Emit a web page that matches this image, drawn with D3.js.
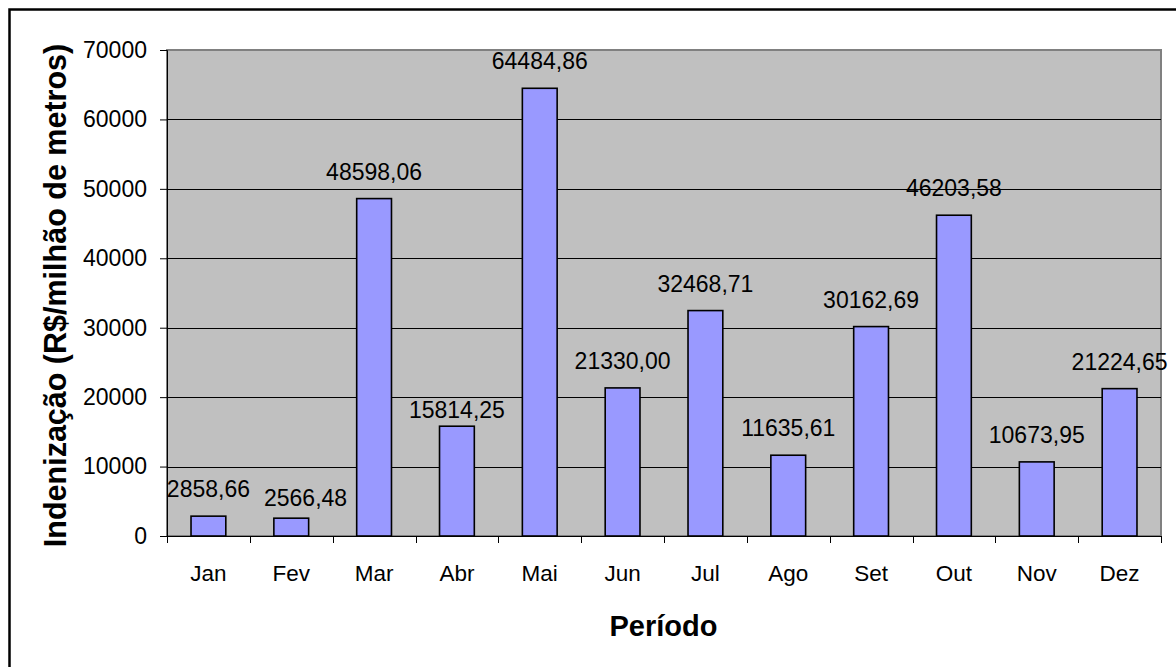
<!DOCTYPE html>
<html>
<head>
<meta charset="utf-8">
<script src="https://cdn.jsdelivr.net/npm/d3@7"></script>
<style>
html,body{margin:0;padding:0;background:#fff;}
svg{display:block;}
text{font-family:"Liberation Sans",Arial,sans-serif;fill:#000;}
</style>
</head>
<body>
<script>
const months = ["Jan","Fev","Mar","Abr","Mai","Jun","Jul","Ago","Set","Out","Nov","Dez"];
const values = [2858.66,2566.48,48598.06,15814.25,64484.86,21330.00,32468.71,11635.61,30162.69,46203.58,10673.95,21224.65];
const yTicks = [0,10000,20000,30000,40000,50000,60000,70000];
const yTitle = "Indenização (R$/milhão de metros)";
const xTitle = "Período";

// layout: manual label nudges seen in the original (pixels, downward)
const labelNudgeY = { Abr: 11 };

const W = 1176, H = 667;
const svg = d3.select("body").append("svg").attr("width", W).attr("height", H);

// outer chart border (right/bottom extend beyond the picture)
svg.append("rect").attr("x", 9.5).attr("y", 9.5).attr("width", W + 20).attr("height", H + 20)
  .attr("fill", "#fff").attr("stroke", "#000").attr("stroke-width", 2.5);

const L = 167, R = 1161, T = 50, B = 536;
const x = d3.scaleBand().domain(months).range([L, R]).paddingInner(0.58).paddingOuter(0.29);
const y = d3.scaleLinear().domain([0, 70000]).range([B, T]);

// plot area
svg.append("rect").attr("x", L).attr("y", T).attr("width", R - L).attr("height", B - T)
  .attr("fill", "#C0C0C0").attr("stroke", "#808080").attr("stroke-width", 2);

// gridlines
svg.append("g").selectAll("line").data(yTicks.filter(d => d > 0 && d < 70000)).join("line")
  .attr("x1", L).attr("x2", R).attr("y1", d => Math.round(y(d)) + 0.5).attr("y2", d => Math.round(y(d)) + 0.5)
  .attr("stroke", "#000").attr("stroke-width", 1);

// bars
svg.append("g").selectAll("rect").data(values).join("rect")
  .attr("x", (d, i) => x(months[i]))
  .attr("width", x.bandwidth())
  .attr("y", d => y(d))
  .attr("height", d => B - y(d))
  .attr("fill", "#9999FF").attr("stroke", "#000").attr("stroke-width", 1.6);

// value labels (shifted right when they would collide with the previous label)
const fmt = v => v.toFixed(2).replace(".", ",");
const labels = svg.append("g").selectAll("text").data(values).join("text")
  .attr("x", (d, i) => x(months[i]) + x.bandwidth() / 2)
  .attr("y", (d, i) => y(d) - 19 + (labelNudgeY[months[i]] || 0))
  .attr("text-anchor", "middle")
  .style("font-size", "23px")
  .text(d => fmt(d));
let prev = null;
labels.each(function () {
  const bb = this.getBBox();
  if (prev && bb.x < prev.x + prev.width + 10 && Math.abs(bb.y - prev.y) < bb.height) {
    const dx = prev.x + prev.width + 14 - bb.x;
    d3.select(this).attr("x", +d3.select(this).attr("x") + dx)
      .attr("y", +d3.select(this).attr("y") + 7);
    prev = this.getBBox();
  } else prev = bb;
});

// y axis
const yAxis = d3.axisLeft(y).tickValues(yTicks).tickSize(7).tickPadding(13).tickFormat(d3.format("d"));
const gy = svg.append("g").attr("transform", `translate(${L},0)`).call(yAxis);
gy.selectAll("text").style("font-size", "23px").style("font-family", '"Liberation Sans",Arial,sans-serif');
gy.select(".domain").attr("stroke", "#000");
gy.selectAll(".tick line").attr("stroke", "#000");

// x axis with ticks at category boundaries
const gx = svg.append("g").attr("transform", `translate(0,${B})`);
gx.append("line").attr("x1", L).attr("x2", R).attr("y1", 0.5).attr("y2", 0.5).attr("stroke", "#000");
const step = x.step();
const bounds = d3.range(months.length + 1).map(i => L + i * step);
gx.selectAll("line.tk").data(bounds).join("line").attr("class", "tk")
  .attr("x1", d => Math.round(d) + 0.5).attr("x2", d => Math.round(d) + 0.5)
  .attr("y1", 0).attr("y2", 7).attr("stroke", "#000");
gx.selectAll("text").data(months).join("text")
  .attr("x", d => x(d) + x.bandwidth() / 2)
  .attr("y", 45)
  .attr("text-anchor", "middle")
  .style("font-size", "22.5px")
  .text(d => d);

// titles
svg.append("text").attr("x", 663.5).attr("y", 636).attr("text-anchor", "middle")
  .style("font-size", "29px").style("font-weight", "bold").text(xTitle);
svg.append("text").attr("transform", `translate(66,295.5) rotate(-90)`).attr("text-anchor", "middle")
  .style("font-size", "30.5px").style("font-weight", "bold").text(yTitle);
</script>
</body>
</html>
